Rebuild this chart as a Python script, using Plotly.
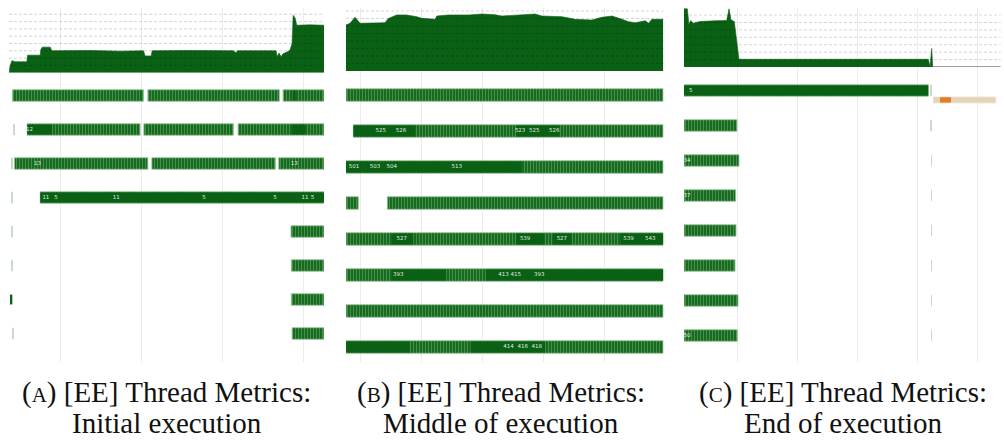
import plotly.graph_objects as go

W, H = 1004, 440

# ---------------- data: (A) initial execution ----------------
a_cpu_t = [3.70, 3.85, 4.06, 4.46, 5.90, 5.98, 7.54, 7.63, 7.79, 8.77, 8.98, 13.69, 17.38,
           20.25, 20.46, 21.19, 21.32, 25.99, 31.32, 31.65, 31.81, 36.57, 36.69, 36.94,
           37.18, 37.43, 38.04, 38.29, 38.54, 38.67, 38.91, 39.11, 40.75, 42.47]
a_cpu_v = [0.0, 1.0, 1.64, 1.5, 1.5, 2.4, 2.4, 3.2, 3.5, 3.5, 3.0, 3.05, 2.95,
           3.0, 2.3, 2.3, 3.0, 3.05, 3.0, 2.7, 3.0, 3.0, 2.2, 2.7,
           2.2, 2.6, 2.9, 3.1, 4.0, 7.86, 7.5, 6.5, 6.55, 6.5]
# thread slices: (thread row, start, end)
a_slices = [(0, 4.13, 20.25), (0, 20.79, 36.97), (0, 37.43, 42.47),
            (1, 5.94, 19.84), (1, 20.30, 31.32), (1, 31.89, 42.47),
            (2, 4.38, 20.79), (2, 21.28, 36.48), (2, 36.90, 42.47),
            (3, 7.54, 42.47),
            (4, 38.41, 42.47), (5, 38.45, 42.47), (6, 38.45, 42.47), (7, 38.54, 42.47)]
a_dense = [(0, 38.60, 39.00), (1, 5.94, 8.98), (1, 38.54, 40.14), (3, 7.54, 42.47),
           (6, 3.87, 4.11)]
a_idle = [(1, 4.26, 4.43), (2, 3.99, 4.10), (3, 3.99, 4.10), (4, 3.99, 4.16),
          (5, 3.99, 4.20), (7, 4.08, 4.20)]
a_labels = [(1, 6.22, "12"), (2, 7.21, "13"), (2, 38.82, "13"),
            (3, 8.24, "11"), (3, 9.47, "5"), (3, 16.89, "11"), (3, 27.71, "5"),
            (3, 36.45, "5"), (3, 40.14, "11"), (3, 41.04, "5")]

# ---------------- data: (B) middle of execution ----------------
b_cpu_t = [107.59, 108.25, 109.07, 109.51, 109.89, 113.98, 114.52, 115.90, 117.54,
           119.18, 120.00, 122.18, 122.46, 124.36, 127.64, 129.84, 132.02, 133.11,
           135.30, 138.57, 139.67, 142.95, 145.13, 147.87, 149.51, 151.15, 152.79,
           153.87, 154.97, 156.61, 157.15, 157.70, 159.56]
b_cpu_v = [6.13, 6.36, 7.16, 6.8, 6.36, 6.44, 7.0, 7.47, 7.47,
           7.24, 7.02, 6.89, 7.33, 7.47, 7.47, 7.6, 7.5, 7.33,
           7.47, 7.6, 7.33, 7.24, 6.89, 6.8, 7.16, 7.33, 6.89,
           6.58, 6.44, 6.7, 6.36, 6.89, 6.89]
b_slices = [(0, 107.59, 159.56), (1, 108.79, 159.56), (2, 107.59, 159.56),
            (3, 107.59, 109.60), (3, 114.36, 159.56), (4, 107.59, 159.56),
            (5, 107.59, 159.56), (6, 107.59, 159.56), (7, 107.59, 159.56)]
b_dense = [(1, 108.79, 118.90), (1, 135.50, 142.50), (2, 107.59, 136.39),
           (4, 115.10, 118.60), (4, 135.50, 140.00), (4, 141.50, 144.50), (4, 152.50, 159.56),
           (5, 115.08, 124.00), (5, 130.50, 159.56),
           (7, 107.59, 118.00), (7, 128.00, 140.20)]
b_labels = [(1, 113.28, "525"), (1, 116.61, "526"), (1, 136.11, "523"), (1, 138.41, "525"),
            (1, 141.69, "526"),
            (2, 108.90, "501"), (2, 112.34, "503"), (2, 115.08, "504"), (2, 125.74, "513"),
            (4, 116.72, "527"), (4, 136.93, "539"), (4, 142.95, "527"), (4, 153.87, "539"),
            (4, 157.43, "543"),
            (5, 116.16, "393"), (5, 133.38, "413"), (5, 135.41, "415"), (5, 139.23, "393"),
            (7, 134.20, "414"), (7, 136.56, "416"), (7, 138.85, "418")]

# ---------------- data: (C) end of execution ----------------
c_cpu_t = [301.12, 301.67, 301.95, 302.23, 302.67, 303.78, 306.28, 308.23, 308.62,
           308.95, 309.50, 309.90, 310.28, 341.83, 342.12, 342.40, 342.57]
c_cpu_v = [7.84, 7.84, 5.68, 6.26, 5.90, 6.13, 6.22, 6.26, 7.84,
           6.35, 6.13, 3.2, 1.04, 1.04, 0.05, 2.5, 0.0]
c_slices = [(0, 301.12, 341.83), (1, 301.12, 309.95), (2, 301.12, 310.28),
            (3, 301.12, 309.73), (4, 301.12, 309.78), (5, 301.12, 309.62),
            (6, 301.12, 310.12), (7, 301.12, 310.00)]
c_dense = [(0, 301.12, 341.83)]
c_idle = [(0, 342.12, 342.40), (1, 342.28, 342.45), (2, 342.30, 342.45), (3, 342.30, 342.45),
          (4, 342.30, 342.45), (5, 342.30, 342.45), (6, 342.30, 342.45), (7, 342.30, 342.45)]
c_labels = [(0, 302.23, "5"), (2, 301.60, "34"), (3, 301.60, "37"), (7, 301.60, "50")]
c_gc_span = [(0, 342.67, 353.07)]
c_gc_active = [(0, 343.78, 345.62)]

captions = [("(<span style='font-size:21px'>A</span>) [EE] Thread Metrics:", "Initial execution"),
            ("(<span style='font-size:21px'>B</span>) [EE] Thread Metrics:", "Middle of execution"),
            ("(<span style='font-size:21px'>C</span>) [EE] Thread Metrics:", "End of execution")]

# ---------------- styling ----------------
DARK = "#0a6014"
STRIPE_BG = "#176a20"
STRIPE_FG = "#4a9350"
OUTLINE = "rgba(150,196,150,0.85)"
IDLE = "#c9dcc9"
CAPTION_FONT = dict(family="Liberation Serif", size=29, color="#111")


def py(px):
    """pixel row (from top) -> paper fraction"""
    return 1 - px / H


def px_x(px):
    return px / W


# per-panel geometry: x-domain px, x-range, area baseline px, area top value,
# row axis range, bar thickness
panels = [
    dict(xd=(9, 324), xr=(3.70, 42.47), base=72.7, atop=8.86, rr=(7.838, -2.574), bw=0.34,
         cpu=(a_cpu_t, a_cpu_v), slices=a_slices, dense=a_dense, idle=a_idle, labels=a_labels,
         cx=166.5),
    dict(xd=(346, 663.3), xr=(107.59, 159.56), base=71.0, atop=8.4, rr=(7.417, -2.417), bw=0.35,
         cpu=(b_cpu_t, b_cpu_v), slices=b_slices, dense=b_dense, idle=[], labels=b_labels,
         cx=501),
    dict(xd=(684, 1000.7), xr=(301.12, 353.90), base=67.0, atop=7.95, rr=(7.757, -2.357), bw=0.33,
         cpu=(c_cpu_t, c_cpu_v), slices=c_slices, dense=c_dense, idle=c_idle, labels=c_labels,
         cx=843),
]

fig = go.Figure()
layout = dict(width=W, height=H, margin=dict(l=0, r=0, t=0, b=0),
              paper_bgcolor="white", plot_bgcolor="rgba(0,0,0,0)",
              showlegend=False, barmode="overlay", shapes=[], annotations=[])


def add_bars(segs, xa, ya, width, marker, offset=0.0):
    if not segs:
        return
    fig.add_trace(go.Bar(
        orientation="h",
        y=[s[0] + offset for s in segs],
        base=[s[1] for s in segs],
        x=[s[2] - s[1] for s in segs],
        width=width, marker=marker, xaxis=xa, yaxis=ya, hoverinfo="skip"))


for i, p in enumerate(panels):
    xn = "" if i == 0 else str(i + 1)
    rows_n = str(2 * i + 1) if i > 0 else ""
    area_n = str(2 * i + 2)
    xa, ya_rows, ya_area = "x" + xn, "y" + rows_n, "y" + area_n

    layout["xaxis" + xn] = dict(domain=[px_x(p["xd"][0]), px_x(p["xd"][1])], range=list(p["xr"]),
                                anchor=ya_rows, showticklabels=False, ticks="", zeroline=False,
                                showline=False, showgrid=True, gridcolor="#ececec", gridwidth=1,
                                tick0=0, dtick=10)
    layout["yaxis" + rows_n] = dict(domain=[py(362), py(8)], range=list(p["rr"]), anchor=xa,
                                    showticklabels=False, ticks="", showgrid=False,
                                    zeroline=False, showline=False)
    layout["yaxis" + area_n] = dict(domain=[py(p["base"]), py(8)], range=[0, p["atop"]], anchor=xa,
                                    showticklabels=False, ticks="", showgrid=False,
                                    zeroline=False, showline=False)

    # CPU usage area
    t, v = p["cpu"]
    fig.add_trace(go.Scatter(x=t, y=v, mode="lines", fill="tozeroy", fillcolor=DARK,
                             line=dict(color=DARK, width=0.6), xaxis=xa, yaxis=ya_area,
                             hoverinfo="skip"))
    if t[-1] < p["xr"][1]:
        fig.add_trace(go.Scatter(x=[t[-1], p["xr"][1]], y=[0, 0], mode="lines",
                                 line=dict(color="#7d7d7d", width=1.5), xaxis=xa, yaxis=ya_area,
                                 hoverinfo="skip"))

    # dashed guide lines over the usage area
    for k in range(1, int(p["atop"]) + 1):
        layout["shapes"].append(dict(type="line", xref=xa + " domain", yref=ya_area,
                                     x0=0, x1=1, y0=k, y1=k, layer="above",
                                     line=dict(color="rgba(0,0,0,0.17)", width=1, dash="3px,2px")))

    # thread rows
    add_bars(p["idle"], xa, ya_rows, p["bw"], dict(color=IDLE, line=dict(width=0)))
    add_bars(p["slices"], xa, ya_rows, p["bw"],
             dict(color=STRIPE_BG,
                  pattern=dict(shape="|", bgcolor=STRIPE_BG, fgcolor=STRIPE_FG, size=3,
                               solidity=0.3, fillmode="replace"),
                  line=dict(color=OUTLINE, width=1)))
    add_bars(p["dense"], xa, ya_rows, p["bw"] - 0.05, dict(color=DARK, line=dict(width=0)))

    if i == 2:
        add_bars(c_gc_span, xa, ya_rows, 0.17, dict(color="#e2d4b6", line=dict(color="#eee4d0", width=1)),
                 offset=0.27)
        add_bars(c_gc_active, xa, ya_rows, 0.15, dict(color="#e27a28", line=dict(width=0)),
                 offset=0.27)

    lab = p["labels"]
    fig.add_trace(go.Scatter(x=[l[1] for l in lab], y=[l[0] for l in lab], text=[l[2] for l in lab],
                             mode="text", textfont=dict(size=5.5, color="rgba(255,255,255,0.9)",
                                                        family="DejaVu Sans"),
                             xaxis=xa, yaxis=ya_rows, hoverinfo="skip"))

    # caption
    l1, l2 = captions[i]
    layout["annotations"].append(dict(text=l1, x=px_x(p["cx"]), y=py(392), xref="paper", yref="paper",
                                      xanchor="center", yanchor="middle", showarrow=False,
                                      font=CAPTION_FONT))
    layout["annotations"].append(dict(text=l2, x=px_x(p["cx"]), y=py(423), xref="paper", yref="paper",
                                      xanchor="center", yanchor="middle", showarrow=False,
                                      font=CAPTION_FONT))

fig.update_layout(**layout)
fig.write_html("out.html")
